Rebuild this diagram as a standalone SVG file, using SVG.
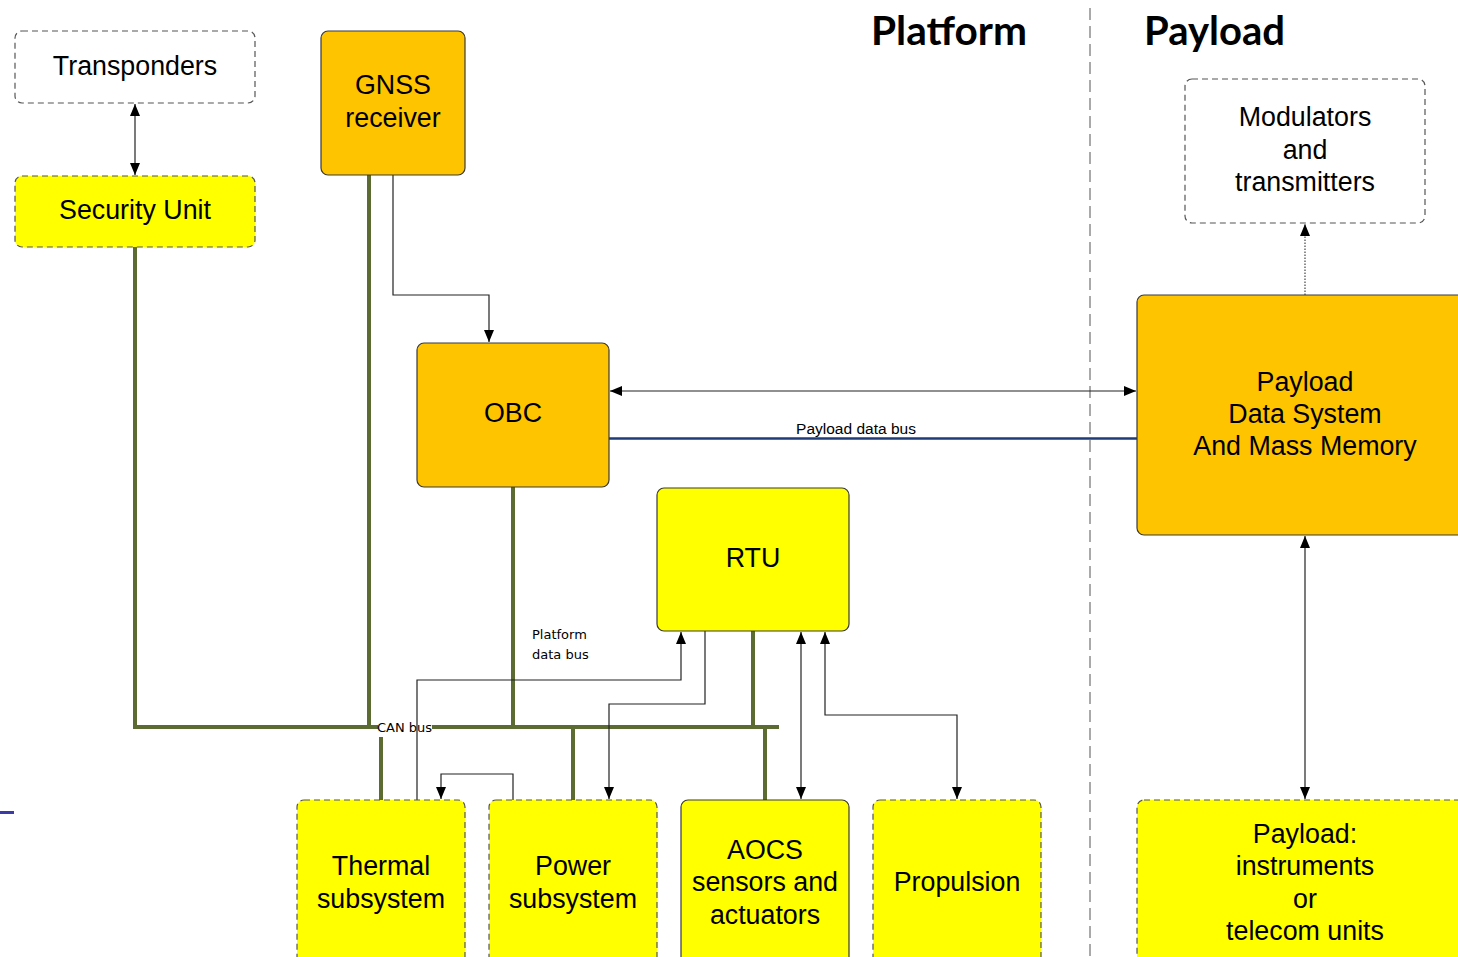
<svg xmlns="http://www.w3.org/2000/svg" width="1458" height="957" viewBox="0 0 1458 957">
  <defs>
    <marker id="arr" viewBox="0 0 12 10" refX="12" refY="5" markerWidth="12" markerHeight="10" markerUnits="userSpaceOnUse" orient="auto-start-reverse">
      <path d="M0,0 L12,5 L0,10 z" fill="#000"/>
    </marker>
    <style>
      .solid { stroke: #3a3a3a; stroke-width: 1.2; }
      .dash { stroke: #555; stroke-width: 1.2; stroke-dasharray: 6 4; }
      .orange { fill: #FFC400; }
      .yellow { fill: #FFFF00; }
      .white { fill: #FFFFFF; }
      .lbl { font-family: "Liberation Sans", Arial, sans-serif; font-size: 26.8px; fill: #000; text-anchor: middle; }
      .title { font-family: Lato, "Open Sans", sans-serif; font-weight: bold; font-size: 40px; fill: #000; }
      .small { font-family: "DejaVu Sans", Verdana, sans-serif; font-size: 13px; fill: #000; }
      .can { fill: none; stroke: #5B6B32; stroke-width: 4; stroke-linecap: square; }
      .thin { fill: none; stroke: #222; stroke-width: 1.2; }
    </style>
  </defs>
  <rect width="1458" height="957" fill="#fff"/>

  <!-- section headings and divider -->
  <text class="title" x="871" y="45" textLength="156" lengthAdjust="spacingAndGlyphs">Platform</text>
  <text class="title" x="1144" y="45" textLength="141" lengthAdjust="spacingAndGlyphs">Payload</text>
  <line x1="1090" y1="8" x2="1090" y2="957" stroke="#555" stroke-width="1" stroke-dasharray="12 6"/>
  <rect x="0" y="811" width="14" height="3" fill="#3B3BA8"/>

  <!-- connectors -->
  <g id="connectors">
    <!-- CAN bus -->
    <path class="can" d="M135,247 V727 H376"/>
    <path class="can" d="M434,727 H777"/>
    <path class="can" d="M369,175 V727"/>
    <path class="can" d="M513,487 V727"/>
    <path class="can" d="M753,631 V727"/>
    <path class="can" d="M381,739 V800"/>
    <path class="can" d="M573,727 V800"/>
    <path class="can" d="M765,727 V800"/>
    <text class="small" x="377" y="732">CAN bus</text>

    <!-- Transponders <-> Security Unit -->
    <line class="thin" x1="135" y1="104" x2="135" y2="175" marker-start="url(#arr)" marker-end="url(#arr)"/>
    <!-- GNSS -> OBC -->
    <path class="thin" d="M393,175 V295 H489 V342" marker-end="url(#arr)"/>
    <!-- OBC <-> Payload Data System -->
    <line class="thin" x1="610" y1="391" x2="1136" y2="391" marker-start="url(#arr)" marker-end="url(#arr)"/>
    <!-- Payload data bus -->
    <line x1="609" y1="438.5" x2="1137" y2="438.5" stroke="#1F3B78" stroke-width="2.5"/>
    <text x="856" y="434" font-family="Liberation Sans, Arial, sans-serif" font-size="15.5" text-anchor="middle" fill="#000">Payload data bus</text>

    <!-- Platform data bus links -->
    <text class="small" x="532" y="639">Platform</text>
    <text class="small" x="532" y="659">data bus</text>
    <path class="thin" d="M417,800 V680 H681 V632" marker-end="url(#arr)"/>
    <path class="thin" d="M705,631 V704 H609 V799" marker-end="url(#arr)"/>
    <path class="thin" d="M513,800 V774 H441 V799" marker-end="url(#arr)"/>
    <line class="thin" x1="801" y1="632" x2="801" y2="799" marker-start="url(#arr)" marker-end="url(#arr)"/>
    <path class="thin" d="M825,632 V715 H957 V799" marker-start="url(#arr)" marker-end="url(#arr)"/>

    <!-- Payload side -->
    <line x1="1305" y1="295" x2="1305" y2="224" stroke="#444" stroke-width="1.2" stroke-dasharray="1.5 1.5" marker-end="url(#arr)"/>
    <line class="thin" x1="1305" y1="536" x2="1305" y2="799" marker-start="url(#arr)" marker-end="url(#arr)"/>
  </g>

  <!-- nodes -->
  <g id="transponders">
    <rect class="white dash" x="15" y="31" width="240" height="72" rx="7"/>
    <text class="lbl" x="135" y="75">Transponders</text>
  </g>
  <g id="security-unit">
    <rect class="yellow dash" x="15" y="176" width="240" height="71" rx="7"/>
    <text class="lbl" x="135" y="219">Security Unit</text>
  </g>
  <g id="gnss">
    <rect class="orange solid" x="321" y="31" width="144" height="144" rx="7"/>
    <text class="lbl" x="393" y="94">GNSS</text>
    <text class="lbl" x="393" y="127">receiver</text>
  </g>
  <g id="obc">
    <rect class="orange solid" x="417" y="343" width="192" height="144" rx="7"/>
    <text class="lbl" x="513" y="422">OBC</text>
  </g>
  <g id="rtu">
    <rect class="yellow solid" x="657" y="488" width="192" height="143" rx="7"/>
    <text class="lbl" x="753" y="567">RTU</text>
  </g>
  <g id="modulators">
    <rect class="white dash" x="1185" y="79" width="240" height="144" rx="7"/>
    <text class="lbl" x="1305" y="126">Modulators</text>
    <text class="lbl" x="1305" y="159">and</text>
    <text class="lbl" x="1305" y="191">transmitters</text>
  </g>
  <g id="payload-data-system">
    <rect class="orange solid" x="1137" y="295" width="340" height="240" rx="7"/>
    <text class="lbl" x="1305" y="391">Payload</text>
    <text class="lbl" x="1305" y="423">Data System</text>
    <text class="lbl" x="1305" y="455">And Mass Memory</text>
  </g>
  <g id="thermal">
    <rect class="yellow dash" x="297" y="800" width="168" height="180" rx="7"/>
    <text class="lbl" x="381" y="875">Thermal</text>
    <text class="lbl" x="381" y="908">subsystem</text>
  </g>
  <g id="power">
    <rect class="yellow dash" x="489" y="800" width="168" height="180" rx="7"/>
    <text class="lbl" x="573" y="875">Power</text>
    <text class="lbl" x="573" y="908">subsystem</text>
  </g>
  <g id="aocs">
    <rect class="yellow solid" x="681" y="800" width="168" height="180" rx="7"/>
    <text class="lbl" x="765" y="859">AOCS</text>
    <text class="lbl" x="765" y="891">sensors and</text>
    <text class="lbl" x="765" y="924">actuators</text>
  </g>
  <g id="propulsion">
    <rect class="yellow dash" x="873" y="800" width="168" height="180" rx="7"/>
    <text class="lbl" x="957" y="891">Propulsion</text>
  </g>
  <g id="payload-instruments">
    <rect class="yellow dash" x="1137" y="800" width="340" height="180" rx="7"/>
    <text class="lbl" x="1305" y="843">Payload:</text>
    <text class="lbl" x="1305" y="875">instruments</text>
    <text class="lbl" x="1305" y="908">or</text>
    <text class="lbl" x="1305" y="940">telecom units</text>
  </g>
</svg>
